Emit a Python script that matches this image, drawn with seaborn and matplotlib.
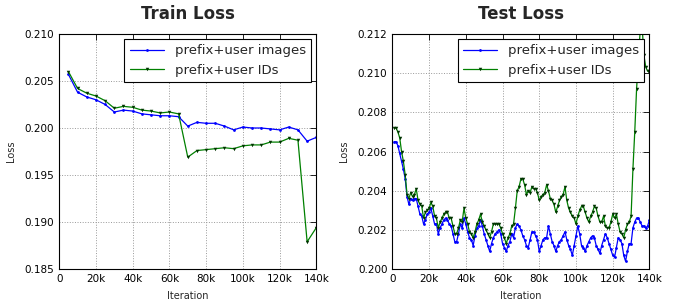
import numpy as np
import pandas as pd
import matplotlib
matplotlib.use("Agg")
import matplotlib.pyplot as plt
import seaborn as sns
from matplotlib.ticker import FuncFormatter

# Train loss, one point every 5k iterations
train_iter = np.arange(5000, 140001, 5000)
train_images = [0.2057, 0.2038, 0.2033, 0.2030, 0.2025, 0.2017, 0.2019, 0.2018,
                0.2015, 0.2014, 0.2013, 0.2013, 0.2012, 0.2002, 0.2006, 0.2005,
                0.2005, 0.2002, 0.1998, 0.2001, 0.2000, 0.2000, 0.1999, 0.1998,
                0.2001, 0.1998, 0.1986, 0.1990]
train_ids = [0.2060, 0.2042, 0.2037, 0.2034, 0.2029, 0.2021, 0.2023, 0.2022,
             0.2019, 0.2018, 0.2016, 0.2017, 0.2015, 0.1969, 0.1976, 0.1977,
             0.1978, 0.1979, 0.1978, 0.1981, 0.1982, 0.1982, 0.1985, 0.1985,
             0.1989, 0.1987, 0.1879, 0.1894]

# Test loss, one point every 1k iterations
test_images = [
    0.2065, 0.2065, 0.2063, 0.2059, 0.2055, 0.2051, 0.2046, 0.2037, 0.2033, 0.2036,
    0.2035, 0.2036, 0.2036, 0.2032, 0.2028, 0.2027, 0.2023, 0.2025, 0.2028, 0.2029,
    0.2031, 0.2027, 0.2023, 0.2023, 0.2018, 0.2021, 0.2023, 0.2025, 0.2026, 0.2025,
    0.2023, 0.2022, 0.2018, 0.2014, 0.2014, 0.2018, 0.2023, 0.2021, 0.2026, 0.2023,
    0.2019, 0.2016, 0.2015, 0.2012, 0.2017, 0.2021, 0.2022, 0.2025, 0.2022, 0.2018,
    0.2015, 0.2012, 0.2009, 0.2013, 0.2016, 0.2018, 0.2019, 0.2020, 0.2018, 0.2013,
    0.2011, 0.2009, 0.2012, 0.2014, 0.2018, 0.2016, 0.2021, 0.2023, 0.2022, 0.2020,
    0.2017, 0.2015, 0.2012, 0.2011, 0.2015, 0.2019, 0.2019, 0.2017, 0.2015, 0.2009,
    0.2012, 0.2015, 0.2016, 0.2016, 0.2022, 0.2018, 0.2014, 0.2012, 0.2009, 0.2012,
    0.2014, 0.2015, 0.2017, 0.2019, 0.2015, 0.2012, 0.2010, 0.2007, 0.2012, 0.2017,
    0.2022, 0.2018, 0.2012, 0.2011, 0.2009, 0.2012, 0.2014, 0.2016, 0.2017, 0.2016,
    0.2012, 0.2010, 0.2008, 0.2012, 0.2015, 0.2018, 0.2016, 0.2013, 0.2010, 0.2007,
    0.2006, 0.2011, 0.2016, 0.2015, 0.2013, 0.2007, 0.2004, 0.2009, 0.2013, 0.2013,
    0.2021, 0.2024, 0.2026, 0.2026, 0.2024, 0.2022, 0.2022, 0.2021, 0.2022, 0.2025]
test_ids = [
    0.2072, 0.2072, 0.2070, 0.2067, 0.2060, 0.2055, 0.2048, 0.2038, 0.2036, 0.2039,
    0.2037, 0.2038, 0.2041, 0.2035, 0.2033, 0.2032, 0.2026, 0.2029, 0.2030, 0.2031,
    0.2034, 0.2032, 0.2027, 0.2026, 0.2021, 0.2024, 0.2026, 0.2028, 0.2029, 0.2029,
    0.2026, 0.2026, 0.2022, 0.2018, 0.2018, 0.2021, 0.2025, 0.2024, 0.2031, 0.2026,
    0.2023, 0.2019, 0.2018, 0.2016, 0.2019, 0.2023, 0.2025, 0.2028, 0.2024, 0.2022,
    0.2020, 0.2018, 0.2016, 0.2019, 0.2023, 0.2023, 0.2023, 0.2023, 0.2021, 0.2018,
    0.2016, 0.2013, 0.2016, 0.2018, 0.2022, 0.2023, 0.2031, 0.2040, 0.2042, 0.2046,
    0.2046, 0.2043, 0.2038, 0.2040, 0.2039, 0.2042, 0.2041, 0.2041, 0.2039, 0.2035,
    0.2037, 0.2038, 0.2039, 0.2043, 0.2040, 0.2036, 0.2035, 0.2033, 0.2029, 0.2032,
    0.2035, 0.2037, 0.2038, 0.2042, 0.2035, 0.2031, 0.2029, 0.2027, 0.2026, 0.2023,
    0.2027, 0.2030, 0.2032, 0.2032, 0.2029, 0.2026, 0.2024, 0.2027, 0.2029, 0.2032,
    0.2031, 0.2027, 0.2024, 0.2024, 0.2027, 0.2022, 0.2021, 0.2021, 0.2024, 0.2028,
    0.2026, 0.2028, 0.2023, 0.2019, 0.2018, 0.2016, 0.2020, 0.2023, 0.2024, 0.2027,
    0.2051, 0.2070, 0.2092, 0.2108, 0.2122, 0.2124, 0.2109, 0.2103, 0.2101, 0.2101]
test_iter = np.arange(1, len(test_images) + 1) * 1000

labels = ["prefix+user images", "prefix+user IDs"]

sns.set_style("white")
plt.rcParams["font.family"] = ["DejaVu Sans"]
plt.rcParams["xtick.direction"] = "in"
plt.rcParams["ytick.direction"] = "in"
plt.rcParams["xtick.top"] = True
plt.rcParams["ytick.right"] = True

fig = plt.figure(figsize=(6.73, 3.03), dpi=100)
ax1 = fig.add_axes([0.088, 0.112, 0.382, 0.776])
ax2 = fig.add_axes([0.583, 0.112, 0.382, 0.776])

def kfmt(v, pos):
    return "0" if v == 0 else "{:d}k".format(int(round(v / 1000)))

def draw(ax, x, a, b, title, ylim, yticks):
    df = pd.DataFrame({"Iteration": x, "a": a, "b": b})
    sns.lineplot(data=df, x="Iteration", y="a", ax=ax, color="#0000ff", lw=0.9,
                 marker="o", markersize=2, markeredgewidth=0, label=labels[0])
    sns.lineplot(data=df, x="Iteration", y="b", ax=ax, color="#008000", lw=0.9,
                 marker="v", markersize=2.5, markeredgewidth=0,
                 markerfacecolor="#003300", label=labels[1])
    ax.set_xlim(0, 140000)
    ax.set_ylim(*ylim)
    ax.set_xticks(np.arange(0, 140001, 20000))
    ax.set_yticks(yticks)
    ax.xaxis.set_major_formatter(FuncFormatter(kfmt))
    ax.yaxis.set_major_formatter(FuncFormatter(lambda v, p: "{:.3f}".format(v)))
    ax.tick_params(labelsize=7.5, length=4, width=0.6, colors="black")
    ax.grid(True, linestyle=":", color="#999999", lw=0.7)
    for s in ax.spines.values():
        s.set_color("black")
        s.set_linewidth(0.8)
    ax.set_title(title, fontsize=12, fontweight="bold", pad=11)
    ax.set_xlabel("Iteration", fontsize=7, labelpad=5)
    ax.set_ylabel("Loss", fontsize=7, labelpad=6)
    leg = ax.legend(loc="upper right", fontsize=9.5, fancybox=False, framealpha=1,
                    borderaxespad=0.4, handlelength=2.6)
    leg.get_frame().set_edgecolor("black")
    leg.get_frame().set_linewidth(0.8)

draw(ax1, train_iter, train_images, train_ids, "Train Loss", (0.185, 0.210),
     np.arange(0.185, 0.2101, 0.005))
draw(ax2, test_iter, test_images, test_ids, "Test Loss", (0.200, 0.212),
     np.arange(0.200, 0.2121, 0.002))

fig.savefig("out.png", dpi=100)
